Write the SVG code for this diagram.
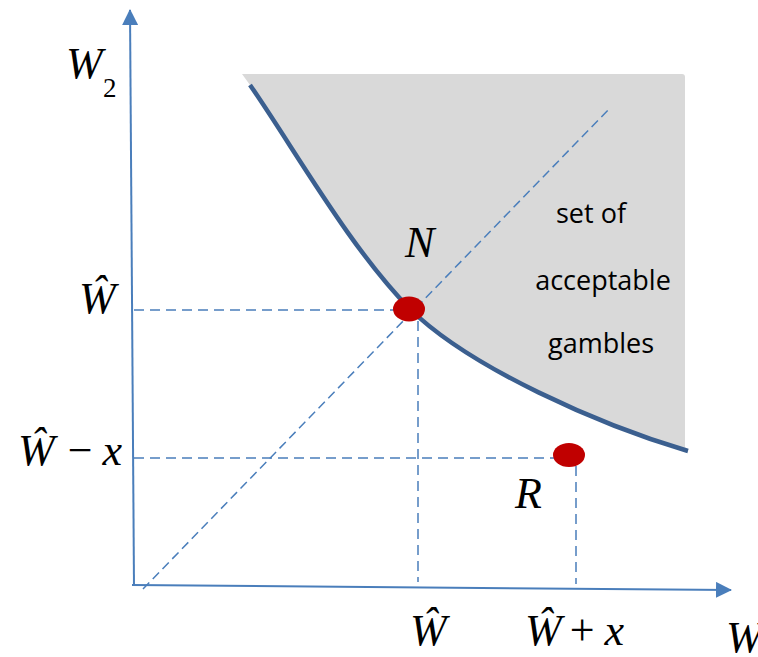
<svg xmlns="http://www.w3.org/2000/svg" width="758" height="657" viewBox="0 0 758 657">
  <defs>
    <marker id="arr" viewBox="0 0 16 16" refX="15" refY="8" markerWidth="16" markerHeight="16" markerUnits="userSpaceOnUse" orient="auto">
      <path d="M0,0 L16,8 L0,16 Z" fill="#4a7ebb"/>
    </marker>
    <style>
      .axis { stroke: #4a7ebb; stroke-width: 2; fill: none; }
      .dash { stroke: #4a7ebb; stroke-width: 1.5; stroke-dasharray: 10 6; fill: none; }
      .diag { stroke: #4a7ebb; stroke-width: 1.5; stroke-dasharray: 9 5; fill: none; }
      .math { font-family: "Liberation Serif", "Times New Roman", serif; font-style: italic; font-size: 44px; fill: #000; }
      .up { font-family: "Liberation Serif", "Times New Roman", serif; font-style: normal; font-size: 44px; fill: #000; }
      .lbl { font-family: "Open Sans", "Liberation Sans", sans-serif; font-size: 27px; fill: #000; text-anchor: middle; }
      .dot { fill: #c00000; }
    </style>
  </defs>

  <g id="region">
    <path d="M242,74 L682,74 Q685,74 685,77 L685,447 L688,451 C600,425 470,368 410,309 C350,248 295,150 250,85 Z" fill="#d9d9d9"/>
    <path d="M250,85 C295,150 350,248 410,309 C470,368 600,425 688,451" fill="none" stroke="#3b5f8f" stroke-width="4.5"/>
    <text class="lbl" x="591" y="223">set of</text>
    <text class="lbl" x="603" y="290">acceptable</text>
    <text class="lbl" x="601" y="353">gambles</text>
  </g>

  <g id="connectors">
    <line class="axis" x1="134" y1="586" x2="130" y2="10" marker-end="url(#arr)"/>
    <line class="axis" x1="132" y1="585" x2="731" y2="590" marker-end="url(#arr)"/>
    <line class="dash" x1="134" y1="310" x2="400" y2="310"/>
    <line class="dash" x1="134" y1="458" x2="556" y2="458"/>
    <line class="dash" x1="418" y1="321" x2="418" y2="582"/>
    <line class="dash" x1="576" y1="466" x2="576" y2="584"/>
    <line class="diag" x1="143" y1="589" x2="611" y2="107"/>
  </g>

  <g id="node-N">
    <ellipse class="dot" cx="409" cy="309" rx="16" ry="12.5"/>
    <text class="math" x="405" y="257">N</text>
  </g>
  <g id="node-R">
    <ellipse class="dot" cx="569" cy="455" rx="16" ry="12"/>
    <text class="math" x="515" y="508">R</text>
  </g>

  <g id="labels">
    <text class="math" x="66" y="78">W</text>
    <text class="up" x="103" y="97" style="font-size:27px">2</text>
    <text class="math" x="79" y="313">Ŵ</text>
    <text class="math" x="18" y="465">Ŵ<tspan class="up" dx="13">−</tspan><tspan dx="10">x</tspan></text>
    <text class="math" x="410" y="645">Ŵ</text>
    <text class="math" x="525" y="645">Ŵ<tspan class="up" dx="8">+</tspan><tspan dx="10">x</tspan></text>
    <text class="math" x="726" y="652">W</text>
  </g>
</svg>
